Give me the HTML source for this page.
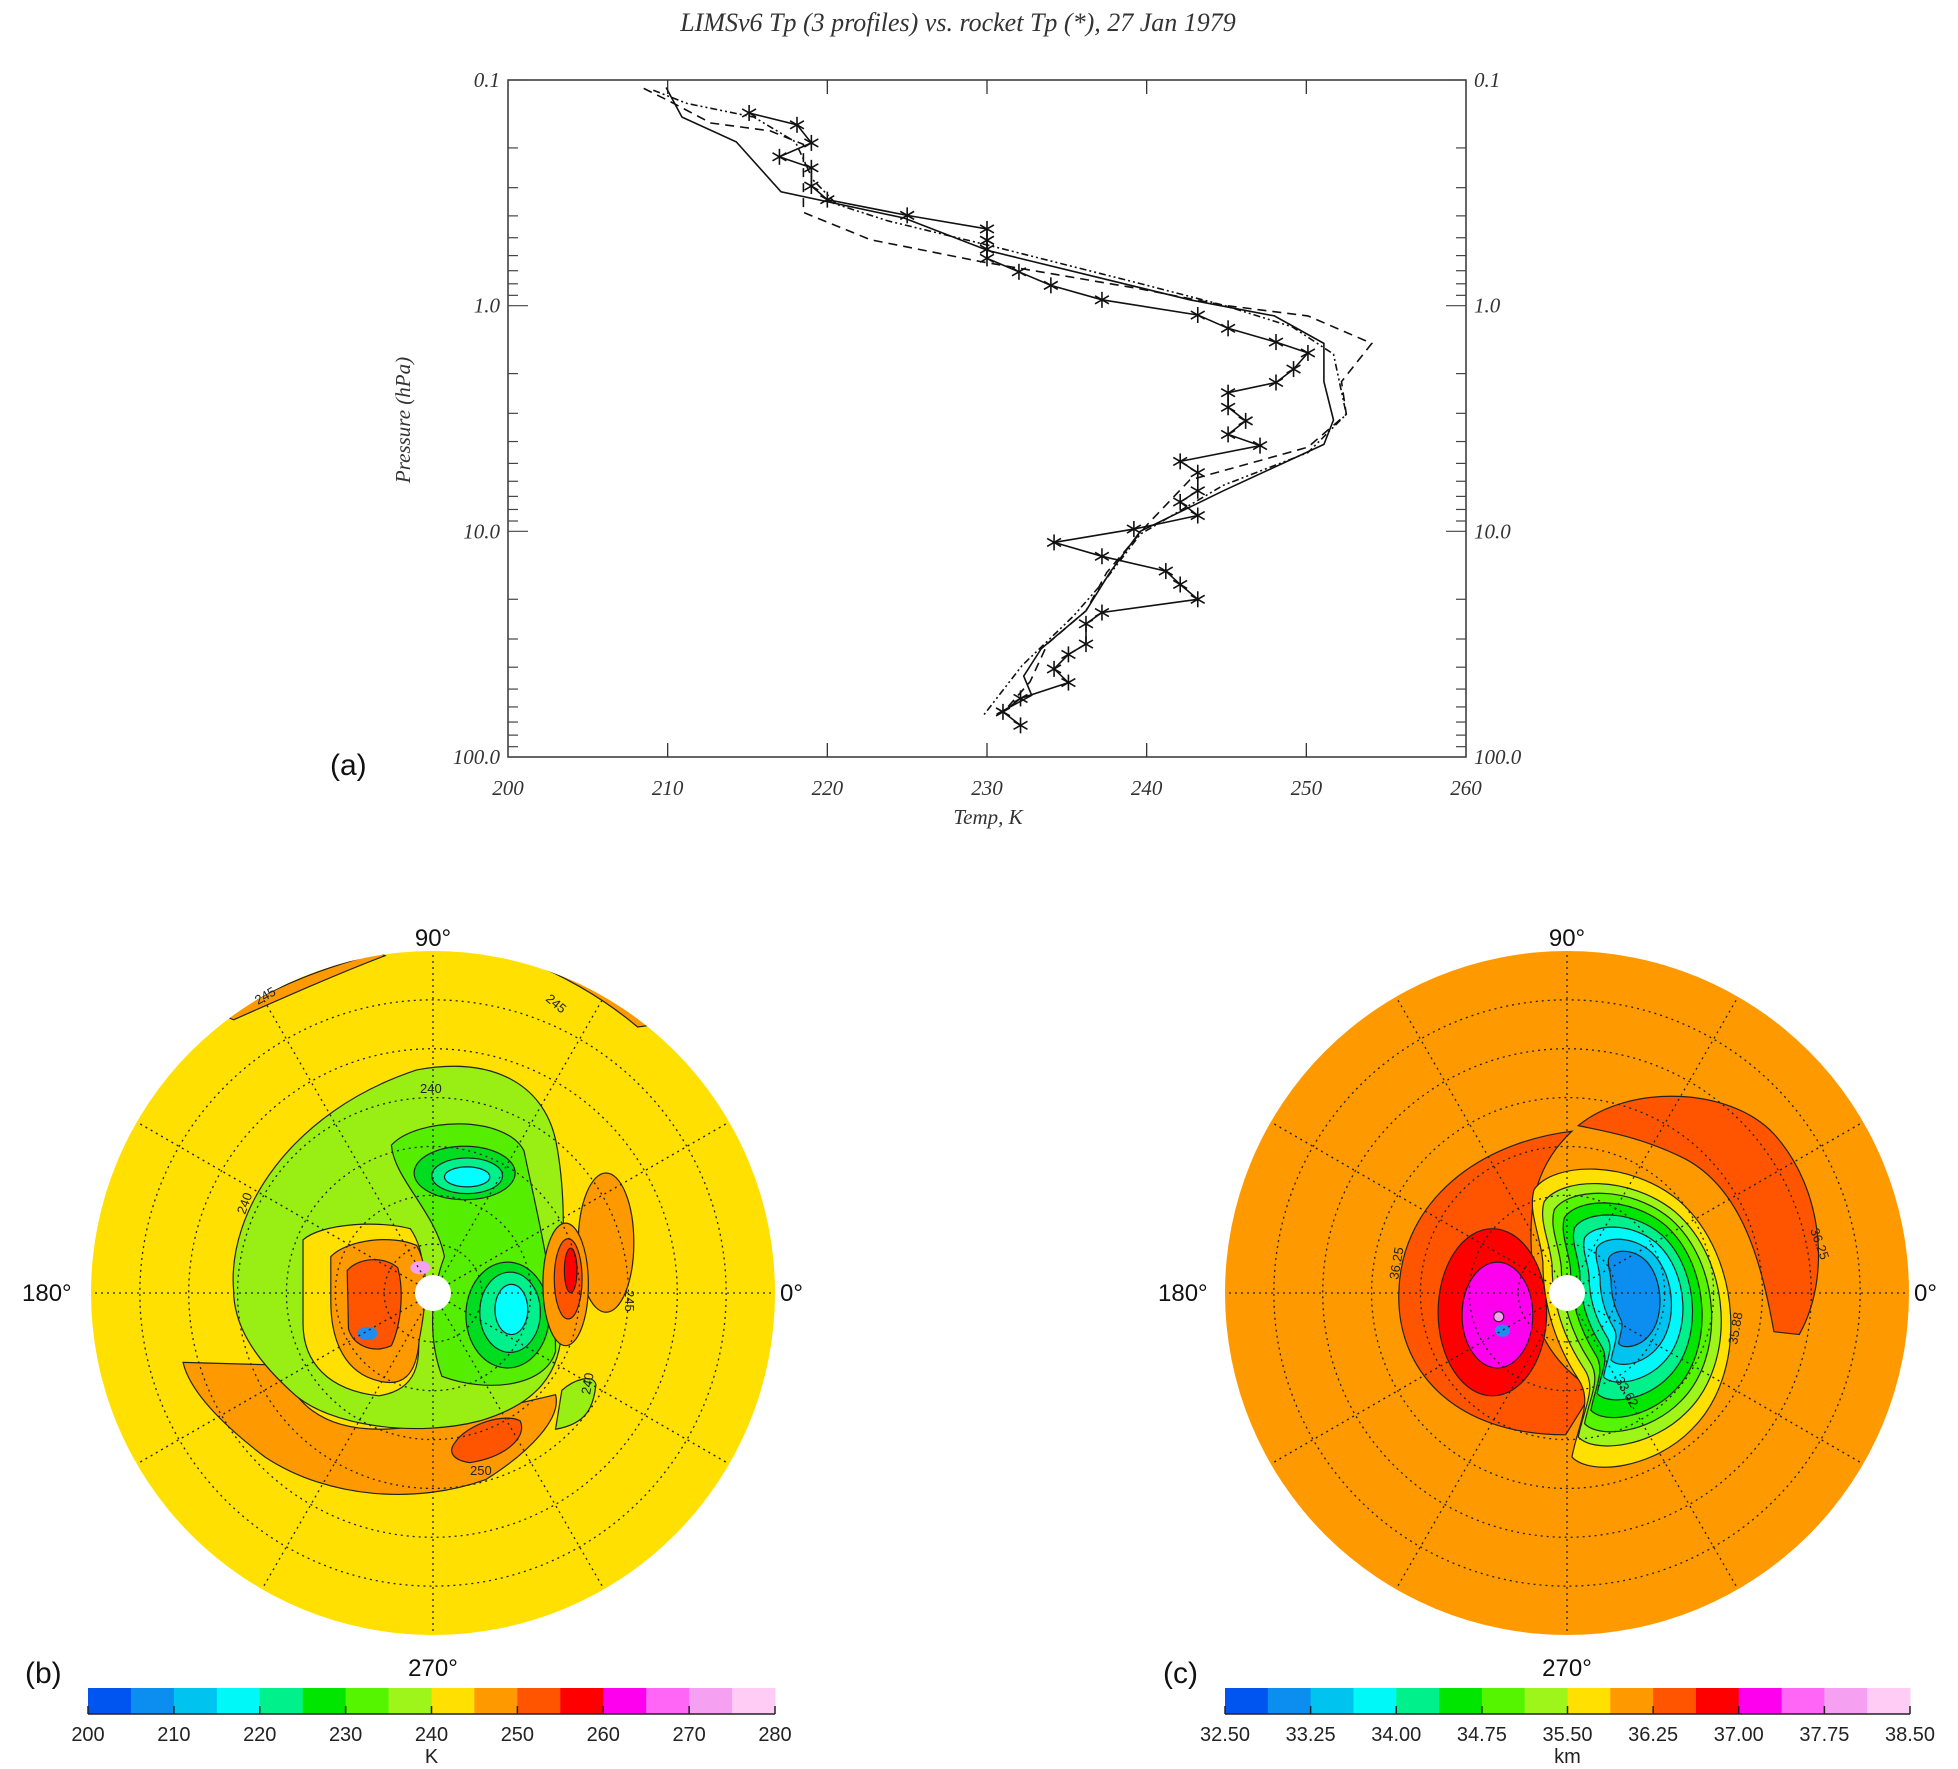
<!DOCTYPE html>
<html><head><meta charset="utf-8"><style>
html,body{margin:0;padding:0;background:#fff;}
svg{display:block;}
.ax{font-family:"Liberation Serif",serif;font-style:italic;font-size:21px;fill:#333;}
.cb{font-family:"Liberation Sans",sans-serif;font-size:20px;fill:#222;}
.lab{font-family:"Liberation Sans",sans-serif;font-size:30px;fill:#111;}
.deg{font-family:"Liberation Sans",sans-serif;font-size:24px;fill:#111;}
.ct{font-family:"Liberation Sans",sans-serif;font-size:13px;fill:#222;}
</style></head><body>
<svg id="root" width="1958" height="1769" viewBox="0 0 1958 1769" xmlns="http://www.w3.org/2000/svg">
<defs>
<clipPath id="clipB"><circle cx="433" cy="1293" r="342"/></clipPath>
<clipPath id="clipC"><circle cx="1567" cy="1293" r="342"/></clipPath>
</defs>
<text x="958" y="31" text-anchor="middle" class="ax" style="font-size:26px">LIMSv6 Tp (3 profiles) vs. rocket Tp (*), 27 Jan 1979</text>
<g id="panelA"></g>
<text x="330" y="775" class="lab">(a)</text>

<!-- Panel b -->
<g>
<circle cx="433" cy="1293" r="342" fill="#ffe000"/>
<g clip-path="url(#clipB)">
<g transform="matrix(1.2626,0,0,0.5571,0,900)" stroke="#222" stroke-width="1.2" vector-effect="non-scaling-stroke">
<path vector-effect="non-scaling-stroke" d="M180,210 C220,150 260,120 300,95 L305,100 C270,130 230,170 185,215 Z" fill="#ff9900"/>
<path vector-effect="non-scaling-stroke" d="M420,100 C460,130 490,170 515,225 L505,228 C480,180 450,140 418,110 Z" fill="#ff9900"/>
<path vector-effect="non-scaling-stroke" d="M145,830 L225,835 C230,900 255,950 300,950 C330,950 360,930 440,888 C445,930 420,990 385,1040 C330,1085 260,1075 210,1000 C175,940 150,880 145,830 Z" fill="#ff9900"/>
<path vector-effect="non-scaling-stroke" d="M360,975 C370,940 400,920 412,935 C418,965 400,1000 372,1010 C358,1005 355,990 360,975 Z" fill="#ff5500"/>
<path vector-effect="non-scaling-stroke" d="M185,700 C180,560 230,380 330,305 C390,280 430,330 440,430 C450,540 445,650 445,760 C445,850 425,905 380,935 C330,965 260,945 232,885 C200,820 185,760 185,700 Z" fill="#99ee14"/>
<path vector-effect="non-scaling-stroke" d="M240,610 C255,580 300,575 325,590 C340,640 335,700 330,760 C335,830 330,880 300,890 C260,880 240,830 240,760 Z" fill="#ffe000"/>
<path vector-effect="non-scaling-stroke" d="M262,640 C275,610 310,600 330,620 C340,660 338,720 332,790 C330,850 320,880 295,860 C270,840 262,780 262,720 Z" fill="#ff9900"/>
<path vector-effect="non-scaling-stroke" d="M275,665 C285,640 305,640 315,660 C320,700 318,760 310,800 C295,815 280,800 276,770 Z" fill="#ff5500"/>
<path vector-effect="non-scaling-stroke" d="M310,440 C330,390 400,385 415,450 C425,560 440,690 440,810 C432,875 385,885 350,855 C338,780 342,700 352,640 C345,560 312,500 310,440 Z" fill="#55ee00"/>
<ellipse vector-effect="non-scaling-stroke" cx="368" cy="490" rx="40" ry="48" fill="#00dd20"/>
<ellipse vector-effect="non-scaling-stroke" cx="402" cy="745" rx="33" ry="95" fill="#00dd20"/>
<ellipse vector-effect="non-scaling-stroke" cx="370" cy="495" rx="28" ry="32" fill="#00f08c"/>
<ellipse vector-effect="non-scaling-stroke" cx="404" cy="740" rx="24" ry="72" fill="#00f08c"/>
<ellipse vector-effect="non-scaling-stroke" cx="370" cy="497" rx="18" ry="18" fill="#00ffff"/>
<ellipse vector-effect="non-scaling-stroke" cx="405" cy="735" rx="13" ry="45" fill="#00ffff"/>
<ellipse vector-effect="non-scaling-stroke" cx="480" cy="615" rx="22" ry="125" fill="#ff9900"/>
<ellipse vector-effect="non-scaling-stroke" cx="448" cy="690" rx="18" ry="110" fill="#ff9900"/>
<ellipse vector-effect="non-scaling-stroke" cx="450" cy="680" rx="11" ry="72" fill="#ff5500"/>
<ellipse vector-effect="non-scaling-stroke" cx="452" cy="665" rx="5" ry="40" fill="#ff0000"/>
<path vector-effect="non-scaling-stroke" d="M445,880 C455,860 470,850 472,870 C470,910 465,940 440,950 Z" fill="#99ee14"/>
<ellipse vector-effect="non-scaling-stroke" cx="333" cy="660" rx="8" ry="12" fill="#f5a0f0" stroke="none"/>
<ellipse vector-effect="non-scaling-stroke" cx="291" cy="778" rx="8" ry="12" fill="#1e8cf0" stroke="none"/>
</g>
</g>
<g id="gridB" fill="none" stroke="#222" stroke-width="1.3" stroke-dasharray="2,4"></g>
<circle cx="433" cy="1293" r="18" fill="#fff" stroke="none"/>
<text x="433" y="946" text-anchor="middle" class="deg">90°</text>
<text x="433" y="1676" text-anchor="middle" class="deg">270°</text>
<text x="22" y="1301" class="deg">180°</text>
<text x="780" y="1301" class="deg">0°</text>
<text x="258" y="1005" class="ct" transform="rotate(-30 258 1005)">245</text>
<text x="545" y="1000" class="ct" transform="rotate(40 545 1000)">245</text>
<text x="420" y="1093" class="ct">240</text>
<text x="245" y="1215" class="ct" transform="rotate(-70 245 1215)">240</text>
<text x="625" y="1290" class="ct" transform="rotate(90 625 1290)">245</text>
<text x="470" y="1475" class="ct">250</text>
<text x="590" y="1395" class="ct" transform="rotate(-80 590 1395)">240</text>
</g>
<text x="25" y="1683" class="lab">(b)</text>
<g id="cbB"></g>

<!-- Panel c -->
<g>
<circle cx="1567" cy="1293" r="342" fill="#ff9900"/>
<g clip-path="url(#clipC)">
<g transform="matrix(1.2626,0,0,0.5571,0,900)" stroke="#222" stroke-width="1.2">
<path vector-effect="non-scaling-stroke" d="M1250,405 C1290,330 1370,335 1405,420 C1445,520 1450,680 1425,780 L1405,775 C1395,650 1380,520 1335,465 C1300,425 1270,415 1250,405 Z" fill="#ff5500"/>
<path vector-effect="non-scaling-stroke" d="M1245,415 C1160,440 1110,560 1108,700 C1105,840 1150,960 1240,960 L1262,880 C1228,830 1212,760 1215,700 C1212,600 1205,500 1245,415 Z" fill="#ff5500"/>
<ellipse vector-effect="non-scaling-stroke" cx="1182" cy="740" rx="43" ry="150" fill="#ff0000"/>
<ellipse vector-effect="non-scaling-stroke" cx="1186" cy="745" rx="28" ry="95" fill="#ff00ee"/>
<ellipse vector-effect="non-scaling-stroke" cx="1187" cy="748" rx="4" ry="9" fill="#f5a0f0"/>
<ellipse vector-effect="non-scaling-stroke" cx="1190" cy="773" rx="6" ry="11" fill="#1e8cf0" stroke="none"/>
<g id="nestC"></g>
</g>
</g>
<g id="gridC" fill="none" stroke="#222" stroke-width="1.3" stroke-dasharray="2,4"></g>
<circle cx="1567" cy="1293" r="18" fill="#fff" stroke="none"/>
<text x="1567" y="946" text-anchor="middle" class="deg">90°</text>
<text x="1567" y="1676" text-anchor="middle" class="deg">270°</text>
<text x="1158" y="1301" class="deg">180°</text>
<text x="1914" y="1301" class="deg">0°</text>
<text x="1810" y="1230" class="ct" transform="rotate(70 1810 1230)">36.25</text>
<text x="1398" y="1280" class="ct" transform="rotate(-80 1398 1280)">36.25</text>
<text x="1737" y="1345" class="ct" transform="rotate(-80 1737 1345)">35.88</text>
<text x="1615" y="1380" class="ct" transform="rotate(60 1615 1380)">33.62</text>
</g>
<text x="1163" y="1683" class="lab">(c)</text>
<g id="cbC"></g>
</svg>
<script>
// ---------- Panel (a) data ----------
const rocketT = [215.1,218.1,219.0,217.0,219.0,219.0,220.0,225.0,230.0,230.0,230.0,230.0,232.0,234.0,237.2,243.2,245.1,248.1,250.1,249.2,248.1,245.1,245.1,246.2,245.1,247.1,242.1,243.2,243.2,242.1,243.2,239.2,234.2,237.2,241.2,242.1,243.2,237.2,236.2,236.2,235.1,234.2,235.1,232.1,231.0,232.1];
const rocketP = [0.140,0.158,0.190,0.219,0.245,0.295,0.339,0.398,0.457,0.513,0.562,0.617,0.708,0.813,0.942,1.10,1.26,1.45,1.62,1.91,2.19,2.43,2.82,3.24,3.72,4.17,4.90,5.50,6.61,7.41,8.51,9.77,11.2,12.9,15.0,17.2,20.0,22.9,25.7,31.6,35.1,40.7,46.8,55.0,63.1,72.4];
const solidT = [209.9,210.9,214.3,217.1,224.8,230.1,242.7,248.0,251.1,251.1,251.7,251.1,244.8,239.6,237.7,236.2,233.4,232.3,232.8,230.6];
const solidP = [0.108,0.146,0.188,0.313,0.409,0.571,0.942,1.11,1.47,2.17,3.21,4.12,6.61,10.0,15.2,22.5,33.1,43.8,53.3,64.6];
const dashT = [208.5,210.1,212.7,216.4,218.5,218.5,222.7,229.6,239.6,244.8,250.1,254.1,252.2,252.5,250.1,242.7,240.1,237.5,236.2,233.8,232.7,231.2];
const dashP = [0.109,0.124,0.155,0.168,0.193,0.386,0.51,0.638,0.843,0.995,1.11,1.47,2.17,3.03,4.24,5.92,9.23,15.2,22.5,31.4,46.4,61.2];
const dotT = [209.1,211.2,215.4,218.0,219.1,220.6,223.8,230.1,239.6,244.8,249.1,251.7,252.5,250.1,244.8,239.6,237.5,235.4,232.2,229.7];
const dotP = [0.111,0.127,0.146,0.188,0.277,0.356,0.421,0.540,0.798,0.995,1.24,1.64,3.03,4.48,6.25,10.3,16.1,23.8,39.3,66.5];
const xTicks = [200,210,220,230,240,250,260];
const yMajor = [0.1,1,10,100];
const yLabels = ["0.1","1.0","10.0","100.0"];
// colorbars
const tempLevels = ["200","210","220","230","240","250","260","270","280"];
const kmLevels = ["32.50","33.25","34.00","34.75","35.50","36.25","37.00","37.75","38.50"];
const cbColors = ["#0055f0","#0c8ef0","#00c4f0","#00f8f8","#00f08c","#00e600","#55f500","#9ef51a","#ffe000","#ff9900","#ff5500","#ff0000","#ff00ee","#ff66f5","#f5a0f0","#ffccf5"];

const NS="http://www.w3.org/2000/svg";
function mk(tag, attrs, parent){const e=document.createElementNS(NS,tag);for(const k in attrs)e.setAttribute(k,attrs[k]);parent.appendChild(e);return e;}
const X0=508,X1=1466,Y0=80,Y1=757;
function xs(t){return X0+(t-200)/60*(X1-X0);}
function ys(p){return Y0+(Math.log10(p)+1)/3*(Y1-Y0);}
const A=document.getElementById('panelA');
const frame=mk('rect',{x:X0,y:Y0,width:X1-X0,height:Y1-Y0,fill:'none',stroke:'#333','stroke-width':1.5},A);


// x ticks
xTicks.forEach(t=>{
  const x=xs(t);
  if(t>200&&t<260){mk('line',{x1:x,y1:Y1,x2:x,y2:Y1-14,stroke:'#333','stroke-width':1.3},A);mk('line',{x1:x,y1:Y0,x2:x,y2:Y0+14,stroke:'#333','stroke-width':1.3},A);}
  const tx=mk('text',{x:x,y:795,'text-anchor':'middle',class:'ax'},A);tx.textContent=t;
  
  
});
// y ticks
for(let d=0;d<3;d++){for(let m=1;m<10;m++){const p=Math.pow(10,d-1)*m;const y=ys(p);const L=(m===1)?20:10;
  mk('line',{x1:X0,y1:y,x2:X0+L,y2:y,stroke:'#444','stroke-width':1.2},A);
  mk('line',{x1:X1,y1:y,x2:X1-L,y2:y,stroke:'#444','stroke-width':1.2},A);}}
yMajor.forEach((p,i)=>{const y=ys(p)+7;
  const t1=mk('text',{x:500,y:y,'text-anchor':'end',class:'ax'},A);t1.textContent=yLabels[i];
  
  
  const t2=mk('text',{x:1474,y:y,'text-anchor':'start',class:'ax'},A);t2.textContent=yLabels[i];
  
  
});
const xt=mk('text',{x:988,y:824,'text-anchor':'middle',class:'ax'},A);xt.textContent='Temp, K';


const yt=mk('text',{x:0,y:0,'text-anchor':'middle',class:'ax',transform:'translate(410,420) rotate(-90)'},A);yt.textContent='Pressure (hPa)';


function line(T,P,dash,name){const d=T.map((t,i)=>(i?'L':'M')+xs(t).toFixed(1)+','+ys(P[i]).toFixed(1)).join(' ');
  const e=mk('path',{d:d,fill:'none',stroke:'#111','stroke-width':1.6,'stroke-dasharray':dash},A);
  
  }
line(solidT,solidP,'none','limb-profile-solid');
line(dashT,dashP,'9,6','limb-profile-dashed');
line(dotT,dotP,'7,3,2,3,2,3','limb-profile-dash-dot');
line(rocketT,rocketP,'none','rocket-profile');
rocketT.forEach((t,i)=>{const x=xs(t),y=ys(rocketP[i]);const g=mk('g',{stroke:'#111','stroke-width':1.6},A);
  
  
  [0,60,120].forEach(a=>{const r=a*Math.PI/180,dx=8*Math.sin(r),dy=8*Math.cos(r);mk('line',{x1:x-dx,y1:y-dy,x2:x+dx,y2:y+dy},g);});});

// polar grids
function grid(id,cx,cy,R){const g=document.getElementById(id);
  [1/7,2/7,3/7,4/7,5/7,6/7].forEach(f=>mk('circle',{cx:cx,cy:cy,r:R*f},g));
  for(let a=0;a<360;a+=30){const r=a*Math.PI/180;mk('line',{x1:cx,y1:cy,x2:cx+R*Math.cos(r),y2:cy+R*Math.sin(r)},g);}}
grid('gridB',433,1293,342);grid('gridC',1567,1293,342);

// nested contours panel c
const nest=document.getElementById('nestC');
const base="M1215,520 C1230,470 1290,465 1330,540 C1380,640 1385,850 1340,950 C1310,1020 1260,1035 1245,1000 C1250,940 1262,900 1250,860 C1230,790 1222,720 1222,650 C1220,600 1210,560 1215,520 Z";
const nestCols=["#ffe000","#9ef51a","#55f500","#00e600","#00f08c","#00f8f8","#00c4f0","#0c8ef0"];
const nestS=[[1,1],[0.9,0.88],[0.8,0.8],[0.7,0.72],[0.6,0.62],[0.5,0.52],[0.38,0.42],[0.26,0.32]];
nestCols.forEach((c,i)=>{const s=nestS[i];const p=mk('path',{d:base,fill:c,stroke:'#222','stroke-width':1.2,'vector-effect':'non-scaling-stroke',transform:`translate(1295,700) scale(${s[0]},${s[1]}) translate(-1295,-700)`},nest);
  
  });

// colorbars
function cbar(id,x0,x1,labels,unit){const g=document.getElementById(id);const w=(x1-x0)/16;
  cbColors.forEach((c,i)=>{const r=mk('rect',{x:x0+i*w,y:1688,width:w+0.5,height:26,fill:c},g);
    
    });
  mk('line',{x1:x0,y1:1714,x2:x1,y2:1714,stroke:'#222','stroke-width':1.5},g);
  labels.forEach((l,i)=>{const x=x0+i*2*w;mk('line',{x1:x,y1:1706,x2:x,y2:1714,stroke:'#222','stroke-width':1.5},g);
    const t=mk('text',{x:x,y:1741,'text-anchor':'middle',class:'cb'},g);t.textContent=l;
    
    });
  const u=mk('text',{x:(x0+x1)/2,y:1763,'text-anchor':'middle',class:'cb'},g);u.textContent=unit;
  
  }
cbar('cbB',88,775,tempLevels,'K');
cbar('cbC',1225,1910,kmLevels,'km');
</script>
</body></html>
